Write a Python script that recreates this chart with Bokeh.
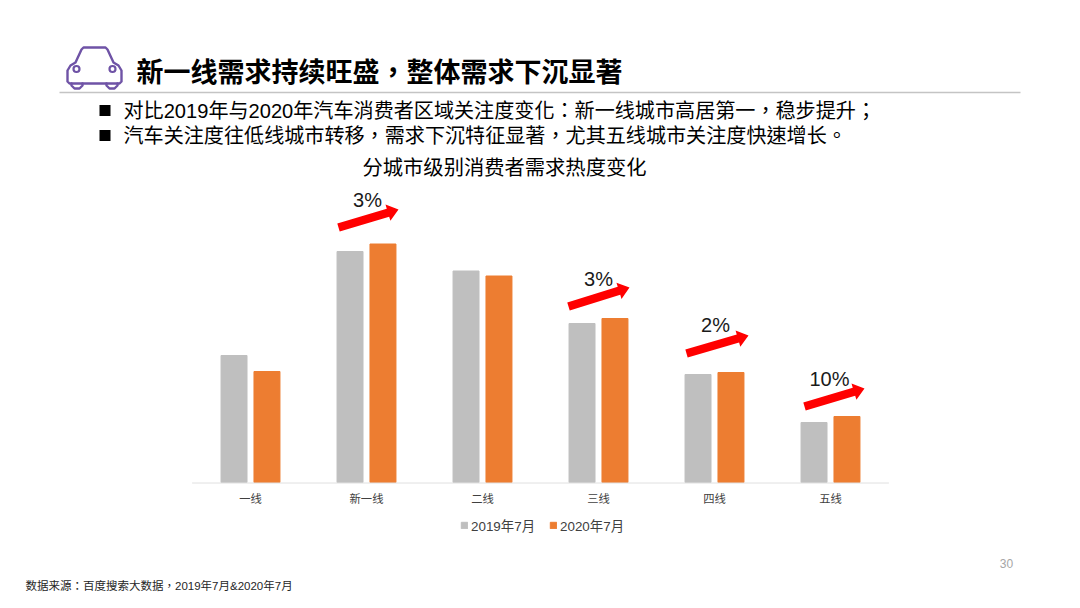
from bokeh.plotting import figure
from bokeh.embed import file_html
from bokeh.resources import INLINE
from bokeh.models import ColumnDataSource, Range1d, Legend, LegendItem, FixedTicker
from bokeh.core.properties import value
import math

FONT = "Liberation Sans, Noto Sans CJK SC"
FONT_P = "Liberation Sans, Noto Sans CJK TC"

cities = ["一线", "新一线", "二线", "三线", "四线", "五线"]
y2019 = [127, 231, 211.5, 159, 108, 60]
y2020 = [111, 238.5, 206.5, 164, 110, 66]
growth_labels = ["3%", "3%", "2%", "10%"]
series_names = ["2019年7月", "2020年7月"]
title_text = "新一线需求持续旺盛，整体需求下沉显著"
bullets = ["对比2019年与2020年汽车消费者区域关注度变化：新一线城市高居第一，稳步提升；",
           "汽车关注度往低线城市转移，需求下沉特征显著，尤其五线城市关注度快速增长。"]
chart_title = "分城市级别消费者需求热度变化"
source_note = "数据来源：百度搜索大数据，2019年7月&2020年7月"
page_no = "30"

W, H = 1080, 608
AX_L, AX_R, BASE = 192, 888, 482
UNIT = (AX_R - AX_L) / len(cities)
pos = [i + 0.5 for i in range(len(cities))]

p = figure(width=W, height=H, output_backend="svg", toolbar_location=None,
           x_range=Range1d(-AX_L / UNIT, (W - AX_L) / UNIT),
           y_range=Range1d(BASE - H, BASE),
           min_border=0, outline_line_color=None, background_fill_color="white", border_fill_color="white")
p.extra_x_ranges["px"] = Range1d(0, W)
p.extra_y_ranges["px"] = Range1d(H, 0)
p.grid.visible = False
p.yaxis.visible = False
ax = p.xaxis[0]
ax.fixed_location = 0
ax.ticker = FixedTicker(ticks=pos)
ax.major_label_overrides = {t: c for t, c in zip(pos, cities)}
ax.axis_line_color = None
ax.major_tick_line_color = None
ax.minor_tick_line_color = None
ax.major_label_text_font = FONT
ax.major_label_text_font_size = "11.3px"
ax.major_label_text_color = "#404040"
ax.major_label_standoff = 4

PX = dict(x_range_name="px", y_range_name="px")


def txt(s, x, y, size, color="#000000", align="left", style="normal", font=FONT_P):
    p.text([x], [y], text=[s], text_font=value(font), text_font_size=size, text_color=color,
           text_align=align, text_baseline="middle", text_font_style=style, **PX)


def stroke(xs, ys, lw=2.4, color="#6f53a6"):
    p.line(xs, ys, line_color=color, line_width=lw, line_join="round", line_cap="round", **PX)


def box(x0, x1, y0, y1, color):
    p.quad(left=x0, right=x1, top=y0, bottom=y1, fill_color=color, line_color=None, **PX)


src = ColumnDataSource(dict(a=[q - 0.142 for q in pos], b=[q + 0.142 for q in pos], ya=y2019, yb=y2020))
r1 = p.vbar(x="a", top="ya", width=0.224, source=src, color="#bfbfbf")
r2 = p.vbar(x="b", top="yb", width=0.224, source=src, color="#ed7d31")
stroke([AX_L, AX_R], [BASE + 0.5, BASE + 0.5], lw=1, color="#e0e0e0")

legend = Legend(items=[LegendItem(label=series_names[0], renderers=[r1]),
                       LegendItem(label=series_names[1], renderers=[r2])],
                orientation="horizontal", location=(460, 73),
                background_fill_alpha=0, border_line_color=None,
                label_text_font=FONT, label_text_font_size="13.4px", label_text_color="#404040",
                glyph_width=8, glyph_height=8, spacing=14, margin=0, padding=0,
                label_standoff=3)
p.add_layout(legend, "center")

txt(title_text, 136, 72, "27px", style="bold")
box(59, 1020, 91.3, 92.7, "#c4c4c4")
for yy, b in zip([110, 135], bullets):
    box(99, 110, yy - 5.5, yy + 5.5, "#000000")
    txt(b, 123, yy, "20.1px")
txt(chart_title, 504, 167, "20.3px", align="center", font=FONT)
txt(source_note, 25, 585, "11.5px", color="#262626")
txt(page_no, 1006, 563, "12px", color="#a6a6a6", align="center")

# growth arrows and labels
arrow_x0 = [338, 568, 686, 804]
arrow_y0 = [227, 306, 353, 406]
arrow_x1 = [398, 629, 748, 864]
arrow_y1 = [209, 287, 335, 388]
label_cx = [367, 598, 715, 829]
label_cy = [199, 278, 324, 378]
for i in range(4):
    x0, y0, x1, y1 = arrow_x0[i], arrow_y0[i], arrow_x1[i], arrow_y1[i]
    L = math.hypot(x1 - x0, y1 - y0)
    ux, uy = (x1 - x0) / L, (y1 - y0) / L
    nx, ny = -uy, ux
    hl, sw, hw = 11, 4.2, 8.5
    bx, by = x1 - ux * hl, y1 - uy * hl
    xs = [x0 + nx * sw, bx + nx * sw, bx + nx * hw, x1, bx - nx * hw, bx - nx * sw, x0 - nx * sw]
    ys = [y0 + ny * sw, by + ny * sw, by + ny * hw, y1, by - ny * hw, by - ny * sw, y0 - ny * sw]
    p.patch(xs, ys, fill_color="#ff0000", line_color=None, **PX)
    txt(growth_labels[i], label_cx[i], label_cy[i], "20px", color="#1a1a1a", align="center")

# car icon
stroke([75, 81, 83, 105, 107, 113, 118, 121, 121, 119, 69, 67, 67, 70, 75],
       [62, 49, 47, 47, 49, 62, 65, 70, 81, 83, 83, 81, 70, 65, 62])
stroke([71, 71, 74, 79, 82, 82], [83, 85, 88, 88, 85, 83])
stroke([106, 106, 109, 114, 117, 117], [83, 85, 88, 88, 85, 83])
p.scatter([76, 112], [68.5, 68.5], size=6, marker="circle", fill_color=None, line_color="#6f53a6", line_width=2.2, **PX)

open("out.html", "w").write(file_html(p, INLINE))
